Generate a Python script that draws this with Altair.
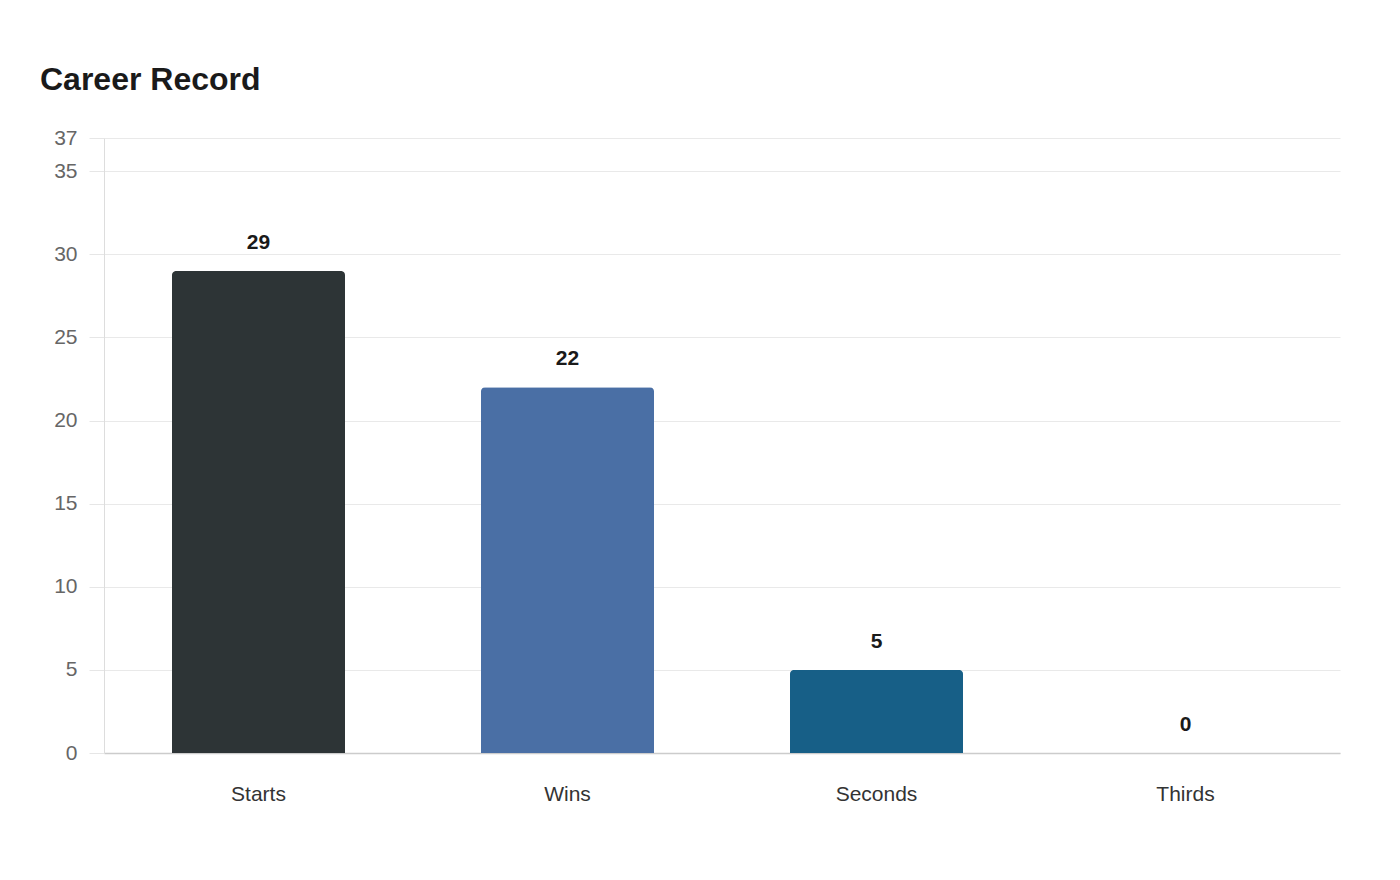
import altair as alt
import pandas as pd

categories = ["Starts", "Wins", "Seconds", "Thirds"]
values = [29, 22, 5, 0]
colors = ["#2d3436", "#4a6fa5", "#175f87", "#8aa9c8"]
y_ticks = [0, 5, 10, 15, 20, 25, 30, 35, 37]

df = pd.DataFrame({"category": categories, "value": values, "color": colors})

FONT = "Liberation Sans"

x_enc = alt.X(
    "category:N",
    sort=categories,
    title=None,
    scale=alt.Scale(paddingInner=0.44, paddingOuter=0.22),
    axis=alt.Axis(
        labelAngle=0,
        labelFont=FONT,
        labelFontSize=21,
        labelColor="#333333",
        labelPadding=30,
        ticks=False,
        domainColor="#cccccc",
        domainWidth=1.5,
        grid=False,
    ),
)

y_enc = alt.Y(
    "value:Q",
    title=None,
    scale=alt.Scale(domain=[0, 37], nice=False),
    axis=alt.Axis(
        values=y_ticks,
        labelFont=FONT,
        labelFontSize=21,
        labelColor="#666666",
        labelPadding=12,
        tickSize=15,
        tickColor="#e6e6e6",
        gridColor="#e9e9e9",
        domainColor="#dddddd",
        labelFlush=False,
    ),
)

bars = alt.Chart(df).mark_bar(
    cornerRadiusTopLeft=4, cornerRadiusTopRight=4
).encode(
    x=x_enc,
    y=y_enc,
    color=alt.Color("color:N", scale=None),
)

labels = alt.Chart(df).mark_text(
    font=FONT,
    fontSize=21,
    fontWeight="bold",
    color="#1a1a1a",
    baseline="alphabetic",
    dy=-22,
).encode(
    x=alt.X("category:N", sort=categories),
    y=alt.Y("value:Q"),
    text=alt.Text("value:Q"),
)

chart = (
    alt.layer(bars, labels)
    .properties(
        width=1236,
        height=615,
        background="white",
        autosize=alt.AutoSizeParams(type="none"),
        padding={"left": 96, "top": 130, "right": 40, "bottom": 100},
        title=alt.TitleParams(
            "Career Record",
            anchor="start",
            frame="group",
            dx=-64,
            offset=5,
            baseline="alphabetic",
            font=FONT,
            fontSize=32,
            fontWeight="bold",
            color="#1a1a1a",
        ),
    )
    .configure_view(strokeWidth=0, stroke="transparent")
)

chart.save("out.html", embed_options={"renderer": "svg", "actions": False})
